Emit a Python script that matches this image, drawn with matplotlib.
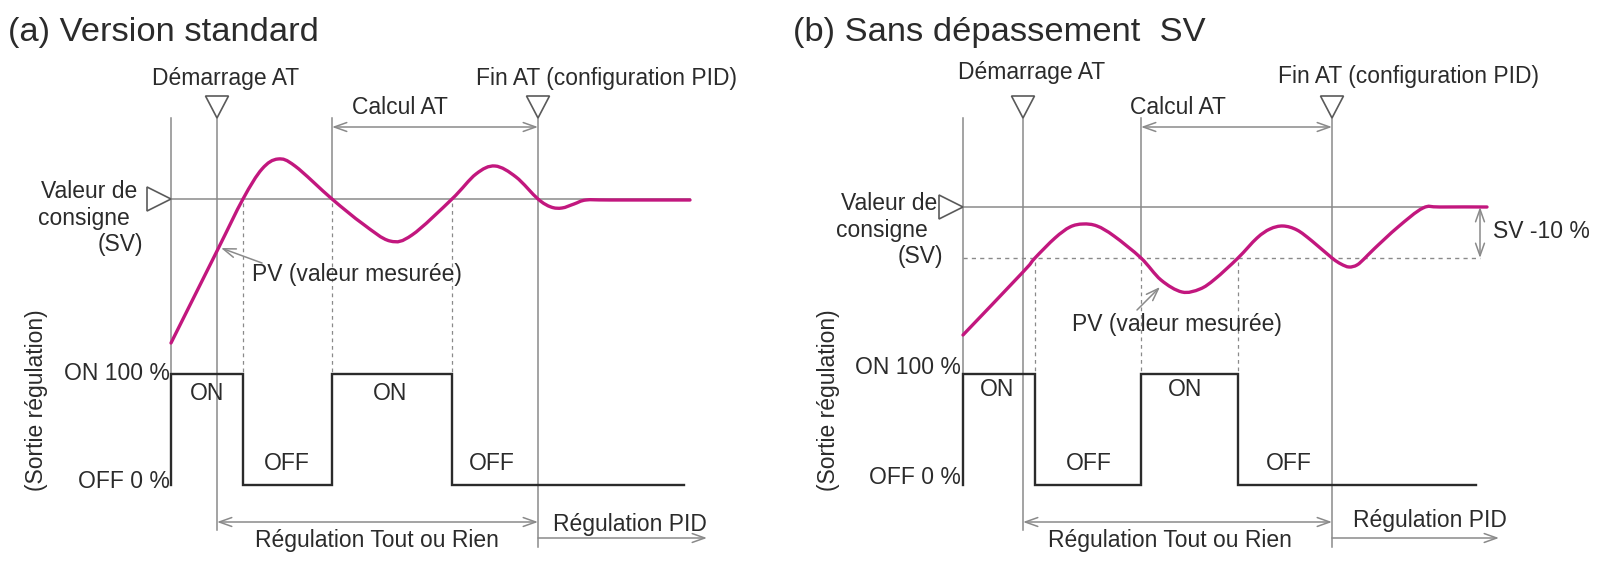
import numpy as np
import matplotlib
matplotlib.use('Agg')
import matplotlib.pyplot as plt
from matplotlib.path import Path
from matplotlib.patches import PathPatch, Polygon

plt.rcParams['font.family'] = ['Liberation Sans', 'DejaVu Sans']

#%% données (repère en pixels de la figure, y vers le bas)
# (a) version standard : courbe PV
pv_a_x = [171, 217, 243, 262, 278, 295, 332, 363, 390, 412, 452, 476, 495, 516, 538, 551, 562, 574, 586, 610, 690]
pv_a_y = [343, 251, 199, 169, 159, 166, 199, 224, 241, 235, 199, 174, 166, 177, 199, 207, 208, 204, 200, 200, 200]
# (b) sans dépassement : courbe PV
pv_b_x = [963, 1023, 1035, 1055, 1070, 1083, 1097, 1114, 1141, 1161, 1182, 1200, 1215, 1238, 1257, 1270,
          1283, 1297, 1312, 1332, 1341, 1349, 1357, 1365, 1374, 1398, 1423, 1440, 1487]
pv_b_y = [335, 272, 258, 238, 227, 224, 226, 236, 258, 280, 292, 289, 279, 258, 238, 229,
          226, 230, 241, 258, 264, 267, 265, 258, 249, 227, 208, 207, 207]

# instants : axe, démarrage AT, commutations, fin AT
t_a = dict(axe=171, debut=217, com=[243, 332, 452], fin=538, fin_base=684, fin_sv=690, fin_pid=707)
t_b = dict(axe=963, debut=1023, com=[1035, 1141, 1238], fin=1332, fin_base=1476, fin_sv=1487, fin_pid=1499)

# niveaux
y_haut = 118          # haut des traits verticaux
y_on, y_off = 374, 485
sv_a, sv_b, sv10_b = 199, 207, 258

# textes des étiquettes (texte, x, y, alignement)
labels_a = [("Valeur de", 137, 192, 'right'), ("consigne", 130, 218, 'right'), ("(SV)", 143, 245, 'right'),
            ("Démarrage AT", 226, 78, 'center'), ("Fin AT (configuration PID)", 607, 78, 'center'),
            ("Calcul AT", 400, 107, 'center'), ("PV (valeur mesurée)", 252, 274, 'left'),
            ("ON 100 %", 170, 374, 'right'), ("OFF 0 %", 170, 482, 'right'),
            ("ON", 207, 393, 'center'), ("OFF", 287, 464, 'center'),
            ("ON", 390, 393, 'center'), ("OFF", 492, 464, 'center'),
            ("Régulation Tout ou Rien", 377, 541, 'center'), ("Régulation PID", 630, 524, 'center')]
labels_b = [("Valeur de", 937, 204, 'right'), ("consigne", 928, 231, 'right'), ("(SV)", 943, 257, 'right'),
            ("Démarrage AT", 1032, 73, 'center'), ("Fin AT (configuration PID)", 1408, 77, 'center'),
            ("Calcul AT", 1178, 107, 'center'), ("PV (valeur mesurée)", 1177, 325, 'center'),
            ("SV -10 %", 1493, 232, 'left'),
            ("ON 100 %", 961, 368, 'right'), ("OFF 0 %", 961, 477, 'right'),
            ("ON", 997, 389, 'center'), ("OFF", 1089, 464, 'center'),
            ("ON", 1185, 389, 'center'), ("OFF", 1289, 464, 'center'),
            ("Régulation Tout ou Rien", 1170, 540, 'center'), ("Régulation PID", 1430, 520, 'center')]

ROSE = '#c2177e'
GRIS = '#8a8a8a'
NOIR = '#2b2b2b'
FS = 16.5

fig = plt.figure(figsize=(16, 5.72), dpi=100)
ax = fig.add_axes([0, 0, 1, 1])
ax.set_xlim(0, 1600)
ax.set_ylim(572, 0)
ax.axis('off')


def courbe(xs, ys):
    # chemin lisse (Catmull-Rom -> Bézier) passant par les points lus
    p = np.column_stack([xs, ys]).astype(float)
    verts, codes = [p[0]], [Path.MOVETO]
    for i in range(len(p) - 1):
        p0 = p[i - 1] if i > 0 else p[i]
        p3 = p[i + 2] if i + 2 < len(p) else p[i + 1]
        verts += [p[i] + (p[i + 1] - p0) / 6, p[i + 1] - (p3 - p[i]) / 6, p[i + 1]]
        codes += [Path.CURVE4] * 3
    ax.add_patch(PathPatch(Path(verts, codes), fc='none', ec=ROSE, lw=2.4, zorder=6,
                           capstyle='round', joinstyle='round'))


def fleche(x0, y0, x1, y1, style='<->'):
    ax.annotate('', xy=(x1, y1), xytext=(x0, y0),
                arrowprops=dict(arrowstyle=style + ',head_length=0.9,head_width=0.32', color=GRIS,
                                lw=1.1, shrinkA=0, shrinkB=0, mutation_scale=10))


def triangle_bas(x):
    ax.add_patch(Polygon([(x - 11.5, 96), (x + 11.5, 96), (x, y_haut)], closed=True,
                         fc='white', ec='#5a5a5a', lw=1.2, zorder=7))


def triangle_droite(x, y):
    ax.add_patch(Polygon([(x - 24, y - 12), (x - 24, y + 12), (x, y)], closed=True,
                         fc='white', ec='#5a5a5a', lw=1.2, zorder=7))


def panneau(t, pv_x, pv_y, sv, labels, sv10=None):
    c1, c2, c3 = t['com']
    ref = sv if sv10 is None else sv10
    # traits verticaux
    ax.plot([t['axe']] * 2, [y_haut, y_on], color=GRIS, lw=1.1)
    ax.plot([t['debut']] * 2, [y_haut, 530], color=GRIS, lw=1.1)
    ax.plot([t['fin']] * 2, [y_haut, 547], color=GRIS, lw=1.1)
    ax.plot([c2] * 2, [y_haut, ref], color=GRIS, lw=1.1)
    for c in (c1, c2, c3):
        ax.plot([c] * 2, [ref + 4, y_on], color=GRIS, lw=0.9, ls=(0, (3, 3)))
    # consigne
    ax.plot([t['axe'], t['fin_sv']], [sv, sv], color=GRIS, lw=1.1)
    if sv10 is not None:
        ax.plot([t['axe'], 1480], [sv10, sv10], color=GRIS, lw=1.0, ls=(0, (3, 3)))
        fleche(1480, sv, 1480, sv10)
    # sortie régulation ON/OFF
    ax.plot([t['axe'], t['axe'], c1, c1, c2, c2, c3, c3, t['fin_base']],
            [y_off, y_on, y_on, y_off, y_off, y_on, y_on, y_off, y_off], color=NOIR, lw=1.7,
            solid_joinstyle='miter')
    # flèches
    fleche(c2, 127, t['fin'], 127)
    fleche(t['debut'], 522, t['fin'], 522)
    fleche(t['fin'], 538, t['fin_pid'], 538, '->')
    triangle_bas(t['debut'])
    triangle_bas(t['fin'])
    triangle_droite(t['axe'], sv)
    courbe(pv_x, pv_y)
    for txt, x, y, ha in labels:
        ax.text(x, y, txt, ha=ha, va='center', fontsize=FS, color=NOIR)
    ax.text(t['axe'] - 134, 400, "(Sortie régulation)", rotation=90, ha='center', va='center',
            fontsize=FS, color=NOIR)


panneau(t_a, pv_a_x, pv_a_y, sv_a, labels_a)
panneau(t_b, pv_b_x, pv_b_y, sv_b, labels_b, sv10=sv10_b)

# flèches PV (valeur mesurée)
fleche(262, 263, 221, 248, '->')
fleche(1137, 310, 1160, 287, '->')

ax.text(8, 33, "(a) Version standard", ha='left', va='center', fontsize=24.8, color=NOIR)
ax.text(793, 33, "(b) Sans dépassement  SV", ha='left', va='center', fontsize=24.8, color=NOIR)

fig.savefig('out.png', dpi=100, facecolor='white')
